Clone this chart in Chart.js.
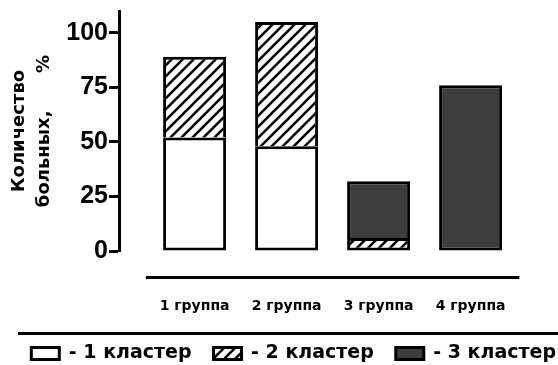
<!DOCTYPE html>
<html>
<head>
<meta charset="utf-8">
<script src="https://cdn.jsdelivr.net/npm/chart.js@4.4.1/dist/chart.umd.min.js"></script>
<style>
  html, body { margin: 0; padding: 0; background: #fff; }
  #wrap { width: 558px; height: 365px; position: relative; }
</style>
</head>
<body>
<div id="wrap"><canvas id="chart"></canvas></div>
<script>
// Data
const groups = ['1 группа', '2 группа', '3 группа', '4 группа'];
const cluster1 = [52, 48, 0, 0];
const cluster2 = [37, 57, 6, 0];
const cluster3 = [0, 0, 26, 76];
const clusterLabels = ['- 1 кластер', '- 2 кластер', '- 3 кластер'];
const yTicks = [0, 25, 50, 75, 100];
const yTitle = ['Количество', 'больных,      %'];

const series = [cluster1, cluster2, cluster3];

// diagonal hatch for cluster 2
function makeHatch() {
    const c = document.createElement('canvas');
    const s = 11;
    c.width = s; c.height = s;
    const g = c.getContext('2d');
    g.fillStyle = '#fff';
    g.fillRect(0, 0, s, s);
    g.strokeStyle = '#000';
    g.lineWidth = 2.6;
    g.beginPath();
    g.moveTo(-2, s + 2); g.lineTo(s + 2, -2);
    g.moveTo(-2, 2); g.lineTo(2, -2);
    g.moveTo(s - 2, s + 2); g.lineTo(s + 2, s - 2);
    g.stroke();
    return g.createPattern(c, 'repeat');
}

// bottom border only for the lowest visible segment
function skipBottom(ctx) {
    const i = ctx.dataIndex;
    if (i === undefined) return false;
    let below = 0;
    for (let d = 0; d < ctx.datasetIndex; d++) below += series[d][i];
    return below > 0 ? 'start' : false;
}

const toPoints = arr => arr.map((v, i) => ({ x: i + 1, y: v }));

// x axis spacing: one group every 92px, first group 75px right of the y axis
const xMin = 1 - 75.6 / 92;
const xMax = xMin + 439 / 92;

const dividers = {
    id: 'dividers',
    afterDraw(chart) {
        const { ctx, scales: { x }, chartArea } = chart;
        ctx.save();
        ctx.strokeStyle = '#000';
        ctx.lineWidth = 3;
        ctx.beginPath();
        ctx.moveTo(x.getPixelForValue(0.47), chartArea.bottom + 26.5);
        ctx.lineTo(x.getPixelForValue(4.53), chartArea.bottom + 26.5);
        ctx.moveTo(18, chartArea.bottom + 82.5);
        ctx.lineTo(chart.width, chartArea.bottom + 82.5);
        ctx.stroke();
        ctx.restore();
    }
};

const common = {
    borderColor: '#000',
    borderWidth: 3,
    borderSkipped: skipBottom,
    barThickness: 63,
    inflateAmount: 0
};

new Chart(document.getElementById('chart').getContext('2d'), {
    type: 'bar',
    data: {
        datasets: [{
            label: clusterLabels[0],
            data: toPoints(cluster1),
            backgroundColor: '#fff',
            ...common
        }, {
            label: clusterLabels[1],
            data: toPoints(cluster2),
            backgroundColor: makeHatch(),
            ...common
        }, {
            label: clusterLabels[2],
            data: toPoints(cluster3),
            backgroundColor: '#3d3d3d',
            ...common
        }]
    },
    options: {
        responsive: true,
        maintainAspectRatio: false,
        animation: false,
        // negative right padding lets the legend row reach the edge
        layout: { padding: { top: 11, left: 0, right: -20, bottom: 0 } },
        plugins: {
            tooltip: { enabled: false },
            legend: {
                position: 'bottom',
                align: 'end',
                maxHeight: 43,
                labels: {
                    color: '#000',
                    boxWidth: 28,
                    boxHeight: 12,
                    padding: 22,
                    font: { family: 'DejaVu Sans', weight: 'bold', size: 19 }
                }
            }
        },
        scales: {
            x: {
                type: 'linear',
                stacked: true,
                offset: false,
                min: xMin,
                max: xMax,
                grid: { display: false },
                border: { display: false },
                afterBuildTicks: scale => {
                    scale.ticks = groups.map((g, i) => ({ value: i + 1 }));
                },
                afterFit: scale => {
                    scale.height = 71;
                    scale.paddingLeft = 0;
                    scale.paddingRight = 0;
                },
                ticks: {
                    autoSkip: false,
                    maxRotation: 0,
                    padding: 39,
                    color: '#000',
                    font: { family: 'DejaVu Sans', weight: 'bold', size: 14 },
                    callback: v => groups[v - 1]
                }
            },
            y: {
                stacked: true,
                min: 0,
                max: 110,
                afterBuildTicks: scale => {
                    scale.ticks = yTicks.map(v => ({ value: v }));
                },
                afterFit: scale => {
                    scale.width = 119;
                    scale.paddingTop = 0;
                    scale.paddingBottom = 0;
                },
                border: { display: true, color: '#000', width: 3 },
                grid: {
                    drawOnChartArea: false,
                    drawTicks: true,
                    tickLength: 10,
                    tickWidth: 3,
                    tickColor: '#000'
                },
                ticks: {
                    padding: 1,
                    color: '#000',
                    font: { family: 'Liberation Sans', weight: 'bold', size: 25 }
                },
                title: {
                    display: true,
                    text: yTitle,
                    color: '#000',
                    font: { family: 'DejaVu Sans', weight: 'bold', size: 18, lineHeight: 1.4 },
                    padding: { top: 7, bottom: 0 }
                }
            }
        }
    },
    plugins: [dividers]
});
</script>
</body>
</html>
